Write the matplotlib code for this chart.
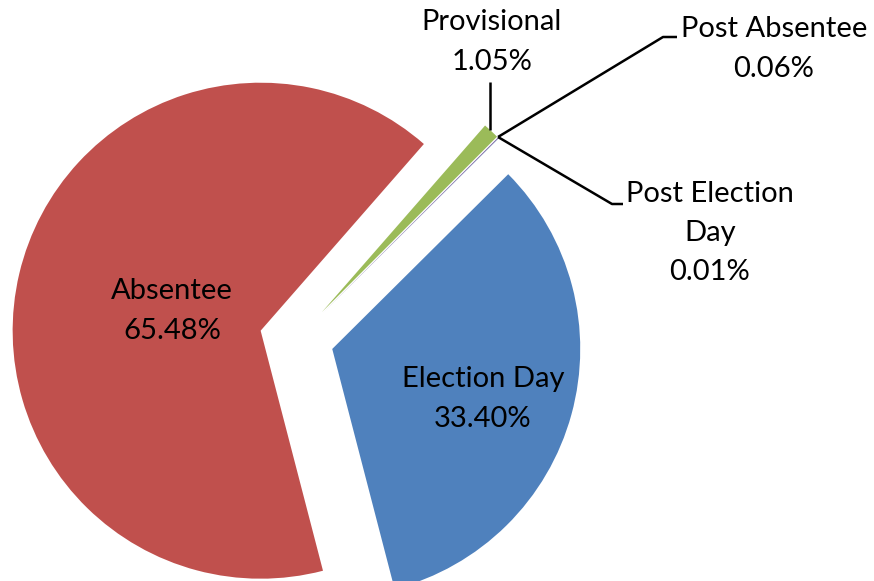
import matplotlib.pyplot as plt

# data
labels = ['Election Day', 'Absentee', 'Provisional', 'Post Absentee', 'Post Election Day']
shares = [33.40, 65.48, 1.05, 0.06, 0.01]
colors = ['#4F81BD', '#C0504D', '#9BBB59', '#8064A2', '#4BACC6']

W, H = 874, 581
cx, cy, R = 296.6, 339.2, 248.0   # pie centre / radius in pixels (y down)


def px(x, y):
    # pixel position -> data units of the pie (radius 1)
    return (x - cx) / R, (cy - y) / R


fig = plt.figure(figsize=(W / 100, H / 100), dpi=100)
ax = fig.add_axes([0, 0, 1, 1])
ax.pie(shares, colors=colors, startangle=44.8, counterclock=False,
       explode=[0.149] * len(shares), radius=1.0,
       wedgeprops=dict(linewidth=0))
ax.set_xlim(px(0, 0)[0], px(W, 0)[0])
ax.set_ylim(px(0, H)[1], px(0, 0)[1])
ax.set_aspect('equal')
ax.axis('off')

font = dict(family=['Lato', 'DejaVu Sans'], fontsize=21, ha='center', va='center',
            color='black', linespacing=1.62)

# label positions (pixel centres)
pos = {
    'Election Day': (483, 399),
    'Absentee': (172, 311),
    'Provisional': (492, 42),
    'Post Absentee': (774, 49),
    'Post Election Day': (710, 233),
}
text = {
    'Election Day': 'Election Day',
    'Absentee': 'Absentee',
    'Provisional': 'Provisional',
    'Post Absentee': 'Post Absentee',
    'Post Election Day': 'Post Election\nDay',
}
for name, val in zip(labels, shares):
    x, y = px(*pos[name])
    ax.text(x, y, '%s\n%.2f%%' % (text[name], val), **font)

# leader lines
leaders = [
    [(490, 82), (490, 130)],
    [(498, 137), (663, 37), (677, 37)],
    [(498, 137), (612, 204), (623, 204)],
]
for pts in leaders:
    xy = [px(a, b) for a, b in pts]
    ax.plot([p[0] for p in xy], [p[1] for p in xy], color='black', lw=1.8,
            solid_capstyle='butt')

fig.savefig('out.png', dpi=100)
